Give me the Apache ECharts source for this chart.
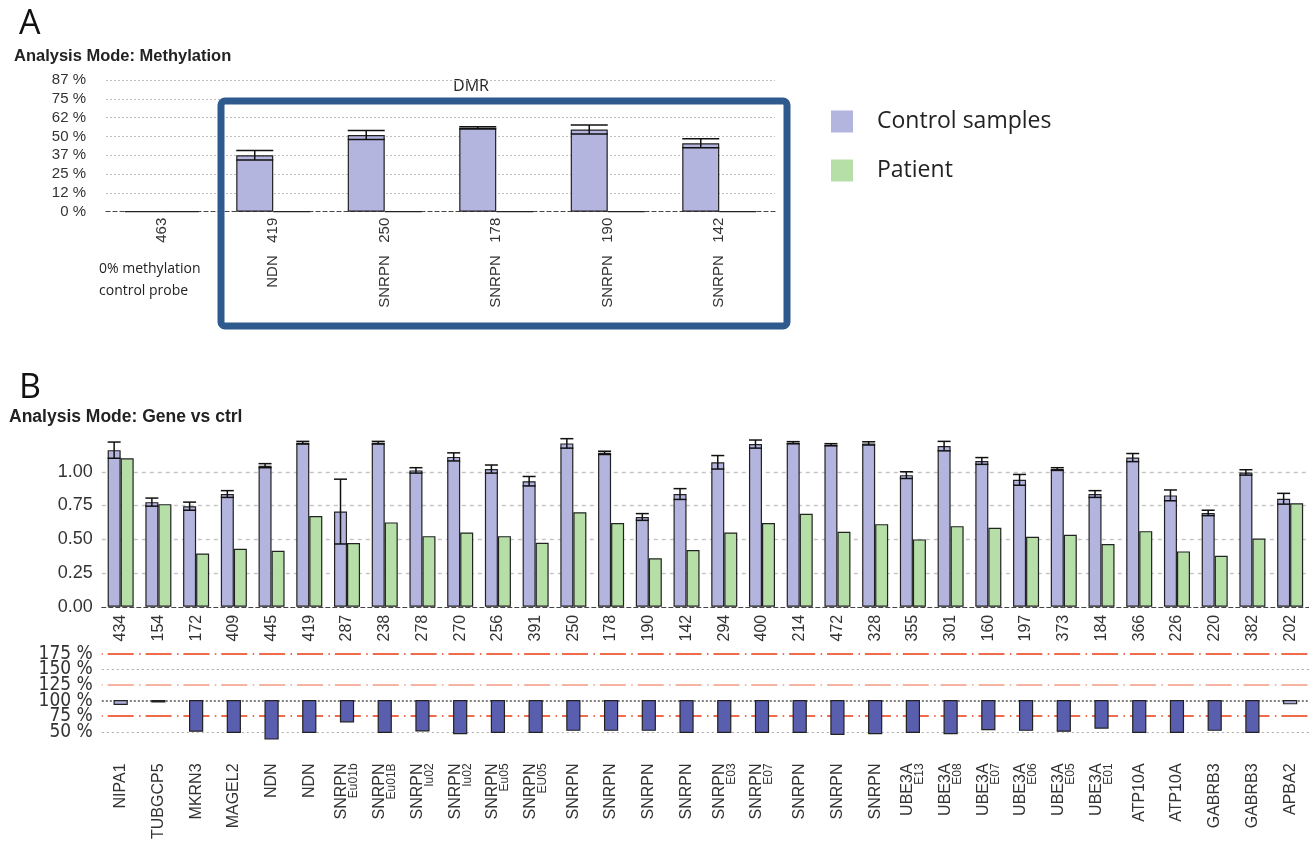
<!DOCTYPE html>
<html>
<head>
<meta charset="utf-8">
<script src="https://cdn.jsdelivr.net/npm/echarts@6/dist/echarts.min.js"></script>
<style>
  html, body { margin: 0; padding: 0; background: #fff; }
  #chart { width: 1309px; height: 842px; }
</style>
</head>
<body>
<div id="chart"></div>
<script>
// ---- Panel A: methylation analysis (percent methylated) ----
const methCategories = ['463', 'NDN   419', 'SNRPN   250', 'SNRPN   178', 'SNRPN   190', 'SNRPN   142'];
const methControl    = [0, 37.5, 51, 55.7, 54.6, 45.5];
const methControlSd  = [0, 3.1, 3, 0.7, 3, 3];
const methPatient    = [0, 0, 0, 0, 0, 0];

// ---- Panel B: gene vs control dosage ----
const probeIds = ['434','154','172','409','445','419','287','238','278','270','256','391','250','178','190','142',
                  '294','400','214','472','328','355','301','160','197','373','184','366','226','220','382','202'];
const geneNames = ['NIPA1','TUBGCP5','MKRN3','MAGEL2','NDN','NDN','SNRPN','SNRPN','SNRPN','SNRPN','SNRPN','SNRPN',
                   'SNRPN','SNRPN','SNRPN','SNRPN','SNRPN','SNRPN','SNRPN','SNRPN','SNRPN','UBE3A','UBE3A','UBE3A',
                   'UBE3A','UBE3A','UBE3A','ATP10A','ATP10A','GABRB3','GABRB3','APBA2'];
const geneExons = ['','','','','','','Eu01b','Eu01B','Iu02','Iu02','Eu05','EU05','','','','',
                   'E03','E07','','','','E13','E08','E07','E06','E05','E01','','','','',''];
const dosageControl   = [1.16, 0.775, 0.745, 0.835, 1.045, 1.215, 0.705, 1.215, 1.01, 1.11, 1.02, 0.93, 1.21, 1.14, 0.665, 0.835,
                         1.07, 1.205, 1.215, 1.20, 1.21, 0.975, 1.19, 1.08, 0.94, 1.02, 0.835, 1.105, 0.825, 0.695, 0.995, 0.80];
const dosageControlSd = [0.06, 0.03, 0.03, 0.025, 0.015, 0.01, 0.24, 0.01, 0.02, 0.03, 0.03, 0.035, 0.035, 0.012, 0.025, 0.04,
                         0.05, 0.03, 0.008, 0.008, 0.012, 0.025, 0.035, 0.025, 0.04, 0.01, 0.025, 0.03, 0.04, 0.02, 0.02, 0.04];
const dosagePatient   = [1.10, 0.76, 0.395, 0.43, 0.415, 0.672, 0.472, 0.625, 0.523, 0.55, 0.523, 0.474, 0.70, 0.62, 0.359, 0.42,
                         0.55, 0.62, 0.688, 0.555, 0.612, 0.499, 0.597, 0.585, 0.518, 0.533, 0.464, 0.56, 0.41, 0.378, 0.506, 0.767];
// patient relative to control, percent
const relativePct     = [94, 98, 51, 49, 38.5, 49, 66, 49, 51.5, 47, 49, 49, 52.5, 52.5, 52.5, 49,
                         49, 49, 49, 46, 47, 49, 47, 53.5, 52.5, 51, 56, 49, 49, 52.5, 49, 95];
const relativeTicks   = [50, 75, 100, 125, 150, 175];

const CONTROL = '#b3b5df';
const PATIENT = '#b5dfa6';
const EDGE = '#222';
const GAP_A = 0.336, GAP_B = 0.31;

// mean ± sd whiskers centred on the control bar (left bar of each pair)
function whiskers(gap) {
  return function (params, api) {
    const i = api.value(0), m = api.value(1), e = api.value(2);
    if (!e) return null;
    const band = api.size([1, 0])[0];
    const bw = band * (1 - gap) / 2;
    const cx = api.coord([i, m])[0] - bw / 2;
    const hi = api.coord([i, m + e])[1];
    const lo = api.coord([i, m - e])[1];
    const st = { stroke: '#111', lineWidth: 1.5 };
    return {
      type: 'group',
      children: [
        { type: 'line', shape: { x1: cx, y1: hi, x2: cx, y2: lo }, style: st },
        { type: 'line', shape: { x1: cx - bw / 2, y1: hi, x2: cx + bw / 2, y2: hi }, style: st },
        { type: 'line', shape: { x1: cx - bw / 2, y1: lo, x2: cx + bw / 2, y2: lo }, style: st }
      ]
    };
  };
}

// relative-dosage bars hanging from 100 %
function relativeBar(params, api) {
  const i = api.value(0), v = api.value(1);
  const band = api.size([1, 0])[0];
  const w = band * (1 - GAP_B) / 2;
  const top = api.coord([i, 100]);
  const bot = api.coord([i, v]);
  return {
    type: 'rect',
    shape: { x: top[0] - w / 2, y: top[1], width: w, height: bot[1] - top[1] },
    style: { fill: v >= 75 ? '#aeb0db' : '#5a5eae', stroke: EDGE, lineWidth: 1.2 }
  };
}

const dashDot = [26, 5.4, 1.5, 4.96];
const DASH_OFF = 31.96;

const chart = echarts.init(document.getElementById('chart'), null, { renderer: 'canvas' });

chart.setOption({
  backgroundColor: '#fff',
  animation: false,
  textStyle: { fontFamily: 'Liberation Sans, Arial, sans-serif' },
  legend: {
    orient: 'vertical', left: 831, top: 110, padding: 0,
    itemWidth: 22, itemHeight: 22, itemGap: 26, icon: 'rect',
    selectedMode: false,
    itemStyle: { borderWidth: 0 },
    textStyle: { fontFamily: 'Open Sans', fontSize: 23, lineHeight: 22, color: '#222', padding: [0, 0, 0, 19] },
    data: ['Control samples', 'Patient']
  },
  grid: [
    { left: 106, top: 80, width: 669, height: 131.7 },
    { left: 101.8, top: 438, width: 1211.4, height: 168.75 },
    { left: 101.8, top: 638.2, width: 1211.4, height: 111 }
  ],
  xAxis: [
    {
      type: 'category', gridIndex: 0, data: methCategories,
      axisTick: { show: false },
      axisLine: { lineStyle: { color: '#444', type: [4, 3], width: 1.2 } },
      axisLabel: { rotate: 90, fontSize: 15, color: '#333', margin: 6 }
    },
    {
      type: 'category', gridIndex: 1, data: probeIds,
      axisTick: { show: false },
      axisLine: { lineStyle: { color: '#444', type: [4, 3], width: 1.2 } },
      axisLabel: { rotate: 90, fontSize: 16, color: '#333', margin: 8 }
    },
    {
      type: 'category', gridIndex: 2, data: probeIds,
      axisTick: { show: false },
      axisLine: { show: false },
      axisLabel: {
        rotate: 90, fontSize: 16, color: '#333', margin: 16, lineHeight: 14,
        formatter: (val, idx) => geneExons[idx] ? geneNames[idx] + '\n{s|' + geneExons[idx] + '}' : geneNames[idx],
        rich: { s: { fontSize: 12, lineHeight: 10, color: '#333' } }
      }
    }
  ],
  yAxis: [
    {
      type: 'value', gridIndex: 0, min: 0, max: 87.5, interval: 12.5,
      axisLine: { show: false }, axisTick: { show: false },
      axisLabel: { fontSize: 15, color: '#333', margin: 20, formatter: v => Math.floor(v) + ' %' },
      splitLine: { showMinLine: false, lineStyle: { color: '#bdbdbd', type: [2, 2], width: 1 } }
    },
    {
      type: 'value', gridIndex: 1, min: 0, max: 1.25, interval: 0.25,
      axisLine: { show: false }, axisTick: { show: false },
      axisLabel: { fontSize: 18, color: '#333', margin: 9, showMaxLabel: false, formatter: v => v.toFixed(2) },
      splitLine: { showMinLine: false, showMaxLine: false, lineStyle: { color: '#c4c4c4', type: [4, 4], width: 1.4 } }
    },
    {
      type: 'value', gridIndex: 2, min: 25, max: 200, interval: 25,
      axisLine: { show: false }, axisTick: { show: false },
      axisLabel: {
        fontSize: 19, color: '#333', margin: 9,
        fontFamily: 'Liberation Sans Narrow, DejaVu Sans Condensed, sans-serif',
        formatter: v => (relativeTicks.indexOf(v) >= 0 ? v + ' %' : '')
      },
      splitLine: { show: false }
    }
  ],
  series: [
    {
      name: 'Control samples', type: 'bar', xAxisIndex: 0, yAxisIndex: 0,
      data: methControl, barGap: '0%', barCategoryGap: (GAP_A * 100) + '%',
      itemStyle: { color: CONTROL, borderColor: EDGE, borderWidth: 1.2 }
    },
    {
      name: 'Patient', type: 'bar', xAxisIndex: 0, yAxisIndex: 0,
      data: methPatient, barGap: '0%', barCategoryGap: (GAP_A * 100) + '%',
      itemStyle: { color: PATIENT, borderColor: EDGE, borderWidth: 1.2 }
    },
    {
      type: 'custom', xAxisIndex: 0, yAxisIndex: 0, silent: true, z: 5,
      encode: { x: 0, y: 1 },
      renderItem: whiskers(GAP_A),
      data: methControl.map((v, i) => [i, v, methControlSd[i]])
    },
    {
      name: 'Control samples', type: 'bar', xAxisIndex: 1, yAxisIndex: 1,
      data: dosageControl, barGap: '0%', barCategoryGap: (GAP_B * 100) + '%',
      itemStyle: { color: CONTROL, borderColor: EDGE, borderWidth: 1.2 }
    },
    {
      name: 'Patient', type: 'bar', xAxisIndex: 1, yAxisIndex: 1,
      data: dosagePatient, barGap: '0%', barCategoryGap: (GAP_B * 100) + '%',
      itemStyle: { color: PATIENT, borderColor: EDGE, borderWidth: 1.2 }
    },
    {
      type: 'custom', xAxisIndex: 1, yAxisIndex: 1, silent: true, z: 5,
      encode: { x: 0, y: 1 },
      renderItem: whiskers(GAP_B),
      data: dosageControl.map((v, i) => [i, v, dosageControlSd[i]])
    },
    {
      type: 'line', xAxisIndex: 2, yAxisIndex: 2, data: [], silent: true,
      markLine: {
        silent: true, symbol: 'none', label: { show: false }, animation: false,
        data: [
          { yAxis: 175, lineStyle: { color: '#f06a4c', width: 2, type: dashDot, dashOffset: DASH_OFF } },
          { yAxis: 150, lineStyle: { color: '#aaaaaa', width: 1.2, type: [2, 3] } },
          { yAxis: 125, lineStyle: { color: '#f7b3a2', width: 2, type: dashDot, dashOffset: DASH_OFF } },
          { yAxis: 100, lineStyle: { color: '#555555', width: 1.6, type: [2, 2] } },
          { yAxis: 75,  lineStyle: { color: '#f06a4c', width: 2, type: dashDot, dashOffset: DASH_OFF } },
          { yAxis: 50,  lineStyle: { color: '#aaaaaa', width: 1.2, type: [2, 3] } }
        ]
      }
    },
    {
      type: 'custom', xAxisIndex: 2, yAxisIndex: 2, silent: true, z: 6,
      encode: { x: 0, y: 1 },
      renderItem: relativeBar,
      data: relativePct.map((v, i) => [i, v])
    }
  ],
  graphic: [
    { type: 'text', left: 19, top: 7, style: { text: 'A', fontFamily: 'Open Sans', fontSize: 34, fill: '#111' } },
    { type: 'text', left: 14, top: 48, style: { text: 'Analysis Mode: Methylation', fontFamily: 'Liberation Sans', fontWeight: 'bold', fontSize: 16.5, fill: '#222' } },
    { type: 'text', x: 471, y: 86, style: { text: 'DMR', fontFamily: 'Open Sans', fontSize: 16, fill: '#222', align: 'center', verticalAlign: 'middle' } },
    {
      type: 'rect', z: 10, silent: true,
      shape: { x: 221, y: 101, width: 566, height: 225, r: 4 },
      style: { fill: 'none', stroke: '#2e5a8e', lineWidth: 7 }
    },
    { type: 'text', left: 99, top: 258, style: { text: '0% methylation\ncontrol probe', fontFamily: 'Open Sans', fontSize: 14, lineHeight: 22, fill: '#222' } },
    { type: 'text', left: 19, top: 371, style: { text: 'B', fontFamily: 'Open Sans', fontSize: 34, fill: '#111' } },
    { type: 'text', left: 9, top: 408, style: { text: 'Analysis Mode: Gene vs ctrl', fontFamily: 'Liberation Sans', fontWeight: 'bold', fontSize: 17.5, fill: '#222' } }
  ]
});
</script>
</body>
</html>
